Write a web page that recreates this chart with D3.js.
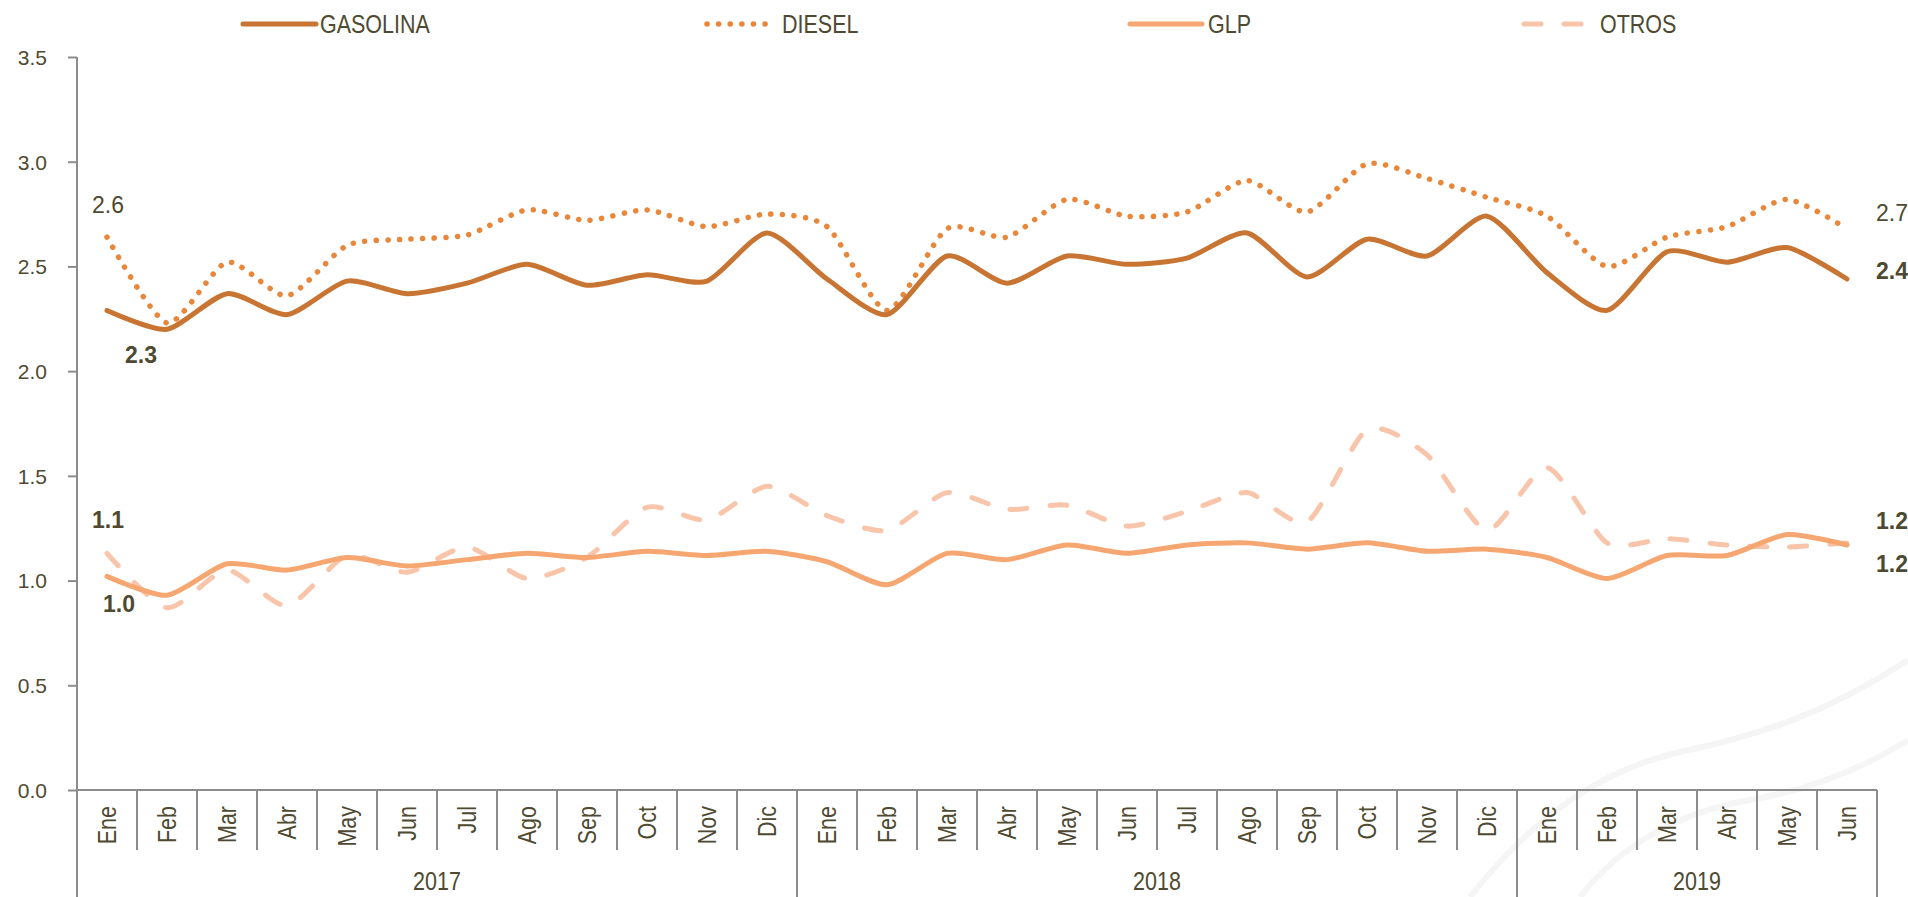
<!DOCTYPE html>
<html>
<head>
<meta charset="utf-8">
<script src="https://cdn.jsdelivr.net/npm/d3@7"></script>
<style>
  html, body { margin: 0; padding: 0; background: #ffffff; }
  #chart { width: 1908px; height: 897px; }
  text { fill: #4e4a31; }
</style>
</head>
<body>
<div id="chart"></div>
<script>
// Monthly series, Ene 2017 - Jun 2019
const months = ["Ene", "Feb", "Mar", "Abr", "May", "Jun", "Jul", "Ago", "Sep", "Oct", "Nov", "Dic",
  "Ene", "Feb", "Mar", "Abr", "May", "Jun", "Jul", "Ago", "Sep", "Oct", "Nov", "Dic",
  "Ene", "Feb", "Mar", "Abr", "May", "Jun"];
const years = [
  { year: "2017", start: 0, end: 11 },
  { year: "2018", start: 12, end: 23 },
  { year: "2019", start: 24, end: 29 },
];

const gasolina = [2.29, 2.20, 2.37, 2.27, 2.43, 2.37, 2.42, 2.51, 2.41, 2.46, 2.43, 2.66,
  2.44, 2.27, 2.55, 2.42, 2.55, 2.51, 2.54, 2.66, 2.45, 2.63, 2.55, 2.74,
  2.47, 2.29, 2.57, 2.52, 2.59, 2.44];
const diesel = [2.64, 2.23, 2.52, 2.36, 2.60, 2.63, 2.65, 2.77, 2.72, 2.77, 2.69, 2.75,
  2.69, 2.29, 2.68, 2.64, 2.82, 2.74, 2.76, 2.91, 2.76, 2.99, 2.92, 2.83,
  2.74, 2.50, 2.64, 2.69, 2.82, 2.68];
const glp = [1.02, 0.93, 1.08, 1.05, 1.11, 1.07, 1.10, 1.13, 1.11, 1.14, 1.12, 1.14,
  1.09, 0.98, 1.13, 1.10, 1.17, 1.13, 1.17, 1.18, 1.15, 1.18, 1.14, 1.15,
  1.11, 1.01, 1.12, 1.12, 1.22, 1.17];
const otros = [1.13, 0.87, 1.05, 0.88, 1.12, 1.04, 1.16, 1.01, 1.11, 1.35, 1.29, 1.45,
  1.31, 1.24, 1.42, 1.34, 1.36, 1.26, 1.33, 1.42, 1.28, 1.72, 1.60, 1.24,
  1.54, 1.18, 1.20, 1.17, 1.16, 1.18];

const yTicks = [0, 0.5, 1.0, 1.5, 2.0, 2.5, 3.0, 3.5];

(function () {
  const width = 1908;
  const height = 897;
  const left = 77, right = 1877, top = 57, bottom = 790;
  const squeeze = 0.86; // condensed look of the original labels

  const svg = d3.select("#chart")
    .append("svg")
    .attr("width", width)
    .attr("height", height);

  const font = "'Liberation Sans', Arial, sans-serif";

  // very faint watermark in the corner
  const wm = svg.append("g").attr("fill", "none").attr("stroke", "#f5f5f5").attr("stroke-width", 6);
  wm.append("path").attr("d", "M1470,897 C1530,820 1600,770 1680,752 C1760,735 1830,712 1908,660");
  wm.append("path").attr("d", "M1580,897 C1620,845 1680,812 1750,800 C1810,790 1860,770 1908,740");

  const x = d3.scaleBand()
    .domain(d3.range(months.length))
    .range([left, right])
    .padding(0);
  const cx = (i) => x(i) + x.bandwidth() / 2;

  const y = d3.scaleLinear().domain([0, 3.5]).range([bottom, top]);

  // y axis
  const yAxis = svg.append("g")
    .attr("transform", `translate(${left},0)`)
    .call(d3.axisLeft(y).tickValues(yTicks).tickSize(9).tickFormat(d3.format(".1f")));
  yAxis.select(".domain").attr("stroke", "#8c8c8c").attr("stroke-width", 2)
    .attr("d", `M0,${top}V${bottom}`);
  yAxis.selectAll(".tick line").attr("stroke", "#8c8c8c").attr("stroke-width", 2);
  yAxis.selectAll(".tick text")
    .attr("x", -30)
    .attr("dy", "0.35em")
    .attr("font-family", font)
    .attr("font-size", 21)
    .attr("fill", "#4e4a31");

  // x axis frame
  const axisG = svg.append("g").attr("stroke", "#8c8c8c").attr("stroke-width", 2);
  axisG.append("line").attr("x1", left).attr("x2", right).attr("y1", bottom).attr("y2", bottom);

  const yearStarts = new Set(years.map((d) => d.start));
  const dividers = d3.range(months.length + 1);
  axisG.selectAll("line.div")
    .data(dividers)
    .join("line")
    .attr("class", "div")
    .attr("x1", (i) => (i < months.length ? x(i) : right))
    .attr("x2", (i) => (i < months.length ? x(i) : right))
    .attr("y1", bottom)
    .attr("y2", (i) => (yearStarts.has(i) || i === months.length ? height : 850));

  svg.append("g")
    .selectAll("text")
    .data(months)
    .join("text")
    .attr("transform", (d, i) => `translate(${cx(i)},806) rotate(-90) scale(${squeeze},1)`)
    .attr("text-anchor", "end")
    .attr("dy", "0.35em")
    .attr("font-family", font)
    .attr("font-size", 25)
    .text((d) => d);

  svg.append("g")
    .selectAll("text")
    .data(years)
    .join("text")
    .attr("transform", (d) => `translate(${(x(d.start) + x(d.end) + x.bandwidth()) / 2},890) scale(${squeeze},1)`)
    .attr("text-anchor", "middle")
    .attr("font-family", font)
    .attr("font-size", 25)
    .text((d) => d.year);

  // series
  const series = [
    { name: "GASOLINA", values: gasolina, color: "#c87533", width: 5, dash: null },
    { name: "DIESEL", values: diesel, color: "#e8873a", width: 5.5, dash: "0.1 11.5" },
    { name: "GLP", values: glp, color: "#f6a771", width: 5, dash: null },
    { name: "OTROS", values: otros, color: "#f8c5aa", width: 5, dash: "17 23" },
  ];

  const line = d3.line()
    .x((d, i) => cx(i))
    .y((d) => y(d))
    .curve(d3.curveCardinal.tension(0.3));

  svg.append("g")
    .selectAll("path")
    .data(series.slice().reverse())
    .join("path")
    .attr("d", (d) => line(d.values))
    .attr("fill", "none")
    .attr("stroke", (d) => d.color)
    .attr("stroke-width", (d) => d.width)
    .attr("stroke-linecap", "round")
    .attr("stroke-linejoin", "round")
    .attr("stroke-dasharray", (d) => d.dash);

  // data labels
  const last = months.length - 1;
  const labels = [
    { s: 1, i: 0, dx: 1, dy: -32, bold: false, anchor: "middle" },
    { s: 0, i: 0, dx: 34, dy: 45, bold: true, anchor: "middle" },
    { s: 3, i: 0, dx: 1, dy: -33, bold: true, anchor: "middle" },
    { s: 2, i: 0, dx: 12, dy: 28, bold: true, anchor: "middle" },
    { s: 1, i: last, dx: 29, dy: -16, bold: false, anchor: "start" },
    { s: 0, i: last, dx: 29, dy: -8, bold: true, anchor: "start" },
    { s: 3, i: last, dx: 29, dy: -22, bold: true, anchor: "start" },
    { s: 2, i: last, dx: 29, dy: 19, bold: true, anchor: "start" },
  ];

  svg.append("g")
    .selectAll("text")
    .data(labels)
    .join("text")
    .attr("x", (d) => cx(d.i) + d.dx)
    .attr("y", (d) => y(series[d.s].values[d.i]) + d.dy)
    .attr("dy", "0.35em")
    .attr("text-anchor", (d) => d.anchor)
    .attr("font-family", font)
    .attr("font-size", 23)
    .attr("font-weight", (d) => (d.bold ? "bold" : "normal"))
    .text((d) => d3.format(".1f")(series[d.s].values[d.i]));

  // legend
  const legendPos = [
    { x1: 243, x2: 316, tx: 320 },
    { x1: 707, x2: 769, tx: 782 },
    { x1: 1130, x2: 1202, tx: 1208 },
    { x1: 1524, x2: 1585, tx: 1600 },
  ];

  const legend = svg.append("g")
    .selectAll("g")
    .data(series)
    .join("g");

  legend.append("line")
    .attr("x1", (d, i) => legendPos[i].x1)
    .attr("x2", (d, i) => legendPos[i].x2)
    .attr("y1", 24)
    .attr("y2", 24)
    .attr("stroke", (d) => d.color)
    .attr("stroke-width", (d) => d.width)
    .attr("stroke-linecap", "round")
    .attr("stroke-dasharray", (d) => d.dash);

  legend.append("text")
    .attr("transform", (d, i) => `translate(${legendPos[i].tx},33) scale(${squeeze},1)`)
    .attr("font-family", font)
    .attr("font-size", 25)
    .text((d) => d.name);
})();
</script>
</body>
</html>
